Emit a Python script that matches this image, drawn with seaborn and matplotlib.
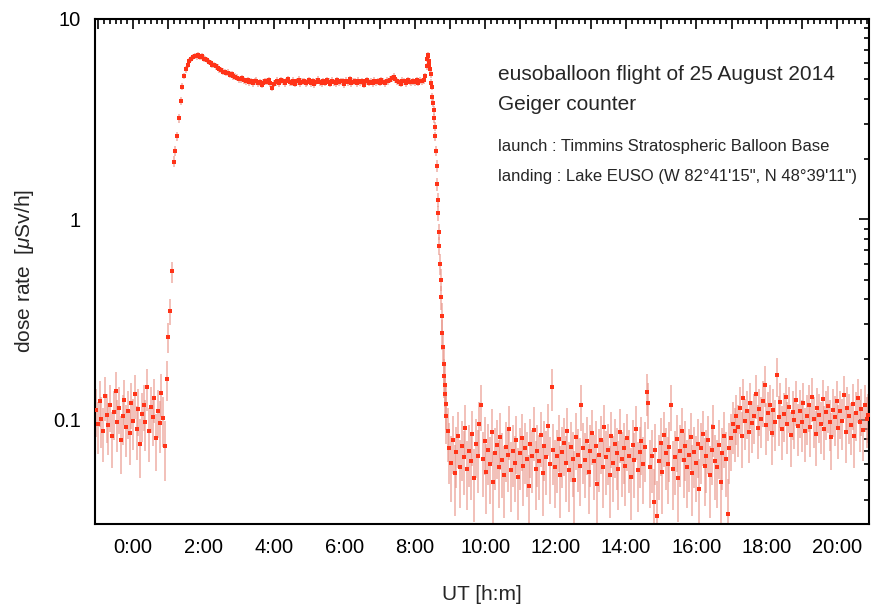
import numpy as np
import matplotlib
matplotlib.use("Agg")
import matplotlib.pyplot as plt
import seaborn as sns
from matplotlib.ticker import FixedLocator, FuncFormatter, MultipleLocator, LogLocator, NullFormatter

sns.set_theme(style="white")
plt.rcParams['font.family'] = ['Liberation Sans', 'DejaVu Sans']
plt.rcParams['mathtext.fontset'] = 'custom'
plt.rcParams['mathtext.rm'] = 'Liberation Sans'
plt.rcParams['mathtext.it'] = 'Liberation Sans:italic'

# -------------------------
# Geiger counter data (time in minutes UT, dose rate in uSv/h)
# -------------------------
# on the ground before launch, every 3 min from -63 to 54
t_pre = np.arange(-63, 55, 3)
dose_pre = [0.112, 0.095, 0.124, 0.101, 0.088, 0.131, 0.106, 0.094, 0.118, 0.083,
            0.109, 0.140, 0.097, 0.115, 0.079, 0.104, 0.126, 0.092, 0.110, 0.086,
            0.121, 0.099, 0.134, 0.090, 0.113, 0.076, 0.107, 0.119, 0.098, 0.145,
            0.088, 0.116, 0.103, 0.128, 0.081, 0.111, 0.096, 0.136, 0.102, 0.074]

# ascent and float, every 3 min from 57 to 498
t_flight = np.arange(57, 499, 3)
dose_flight = [0.16, 0.26, 0.35, 0.55, 1.94, 2.2, 2.6, 3.2, 3.9, 4.6,
               5.2, 5.6, 5.9, 6.15, 6.3, 6.45, 6.55, 6.5, 6.6, 6.45,
               6.5, 6.35, 6.3, 6.25, 6.1, 6.05, 5.9, 5.88, 5.8, 5.72,
               5.6, 5.58, 5.47, 5.45, 5.38, 5.4, 5.28, 5.3, 5.17, 5.15,
               5.1, 5.02, 5.0, 5.05, 4.95, 4.9, 4.95, 4.85, 4.9, 4.8,
               4.88, 4.92, 4.78, 4.85, 4.7, 4.82, 4.9, 4.86, 4.95, 4.8,
               4.55, 4.75, 4.85, 4.92, 4.8, 4.96, 4.88, 4.78, 4.9, 5.0,
               4.85, 4.82, 4.93, 4.75, 4.88, 4.97, 4.8, 4.86, 4.9, 4.78,
               4.85, 4.95, 4.8, 4.9, 4.72, 4.86, 4.98, 4.84, 4.78, 4.9,
               4.82, 4.95, 4.87, 4.76, 4.92, 4.85, 4.8, 4.96, 4.83, 4.9,
               4.88, 4.74, 4.92, 4.85, 4.99, 4.8, 4.86, 4.9, 4.77, 4.93,
               4.84, 4.88, 4.7, 4.9, 4.95, 4.82, 4.87, 4.8, 4.93, 4.85,
               4.9, 4.82, 4.96, 4.86, 4.8, 4.92, 4.88, 4.97, 5.05, 5.15,
               5.0, 4.9, 4.85, 4.75, 4.92, 4.88, 4.8, 4.95, 4.87, 4.83,
               4.9, 4.85, 4.95, 4.82, 4.92, 4.88, 4.96, 5.2]

# burst and descent, every minute from 500 to 534
t_descent = np.arange(500, 535, 1)
dose_descent = [5.8, 6.3, 6.6, 6.5, 6.2, 5.9, 5.6, 5.3, 4.8, 4.6,
                4.1, 3.8, 3.5, 3.2, 2.9, 2.6, 2.2, 1.85, 1.5, 1.25,
                1.08, 0.87, 0.74, 0.6, 0.5, 0.41, 0.33, 0.27, 0.23, 0.19,
                0.165, 0.15, 0.135, 0.12, 0.105]

# on the ground after landing, every 3 min from 536 to 1253
t_post = np.arange(536, 1254, 3)
dose_post = [0.088, 0.072, 0.061, 0.079, 0.054, 0.069, 0.083, 0.058, 0.074, 0.065,
             0.091, 0.057, 0.070, 0.062, 0.085, 0.051, 0.076, 0.066, 0.095, 0.119,
             0.064, 0.078, 0.055, 0.071, 0.060, 0.087, 0.049, 0.068, 0.075, 0.058,
             0.082, 0.063, 0.053, 0.073, 0.067, 0.090, 0.056, 0.070, 0.061, 0.079,
             0.052, 0.068, 0.081, 0.059, 0.072, 0.064, 0.047, 0.076, 0.066, 0.089,
             0.057, 0.070, 0.062, 0.084, 0.054, 0.074, 0.065, 0.093, 0.060, 0.145,
             0.071, 0.058, 0.066, 0.080, 0.053, 0.069, 0.077, 0.061, 0.088, 0.056,
             0.073, 0.064, 0.050, 0.082, 0.067, 0.059, 0.119, 0.072, 0.063, 0.078,
             0.055, 0.070, 0.086, 0.062, 0.074, 0.048, 0.067, 0.079, 0.058, 0.092,
             0.065, 0.071, 0.053, 0.083, 0.061, 0.076, 0.068, 0.057, 0.087, 0.064,
             0.072, 0.059, 0.081, 0.066, 0.052, 0.075, 0.063, 0.090, 0.056, 0.069,
             0.078, 0.060, 0.073, 0.137, 0.121, 0.058, 0.066, 0.039, 0.071, 0.033,
             0.062, 0.077, 0.055, 0.084, 0.068, 0.060, 0.073, 0.119, 0.057, 0.065,
             0.080, 0.051, 0.070, 0.088, 0.063, 0.074, 0.058, 0.067, 0.082, 0.054,
             0.069, 0.061, 0.076, 0.045, 0.072, 0.085, 0.059, 0.066, 0.079, 0.053,
             0.071, 0.092, 0.062, 0.058, 0.075, 0.049, 0.068, 0.083, 0.064, 0.034,
             0.072, 0.081, 0.095, 0.088, 0.104, 0.092, 0.115, 0.083, 0.128, 0.099,
             0.110, 0.087, 0.121, 0.096, 0.105, 0.134, 0.091, 0.113, 0.101, 0.124,
             0.150, 0.094, 0.108, 0.119, 0.086, 0.112, 0.098, 0.167, 0.103, 0.122,
             0.090, 0.107, 0.130, 0.095, 0.116, 0.084, 0.109, 0.100, 0.125, 0.093,
             0.111, 0.097, 0.121, 0.088, 0.104, 0.118, 0.092, 0.130, 0.101, 0.085,
             0.114, 0.106, 0.095, 0.127, 0.090, 0.109, 0.117, 0.098, 0.082, 0.112,
             0.103, 0.124, 0.091, 0.110, 0.099, 0.133, 0.087, 0.115, 0.105, 0.094,
             0.120, 0.083, 0.108, 0.128, 0.097, 0.113, 0.089, 0.118, 0.101, 0.106]

# dose corresponding to one count (Poisson error bars)
dose_per_count = 0.008

hours = np.concatenate([t_pre, t_flight, t_descent, t_post]) / 60.0
dose = np.concatenate([dose_pre, dose_flight, dose_descent, dose_post])
dose_err = np.sqrt(dose * dose_per_count)

# -------------------------
# Plot
# -------------------------
fig = plt.figure(figsize=(8.71, 6.08), dpi=100)
ax = fig.add_axes([95/871, 1 - 524/608, 774/871, 505/608])

ax.errorbar(hours, dose, yerr=dose_err, fmt='none', ecolor='#e99589',
            elinewidth=1.4, alpha=0.6, zorder=1)
sns.scatterplot(x=hours, y=dose, ax=ax, color='#ff3318', marker='s', s=5,
                linewidth=0, zorder=3)

ax.set_yscale('log')
ax.set_ylim(0.0302, 10)
ax.set_xlim(-65/60, 1254/60)

ax.set_yticks([0.1, 1, 10])
ax.set_yticklabels(['0.1', '1', '10'])
ax.yaxis.set_minor_locator(LogLocator(base=10, subs=np.arange(2, 10)))
ax.yaxis.set_minor_formatter(NullFormatter())

ax.xaxis.set_major_locator(FixedLocator(np.arange(-1, 22)))
ax.xaxis.set_major_formatter(FuncFormatter(
    lambda v, p: f"{int(round(v))}:00" if int(round(v)) % 2 == 0 and v >= 0 else ""))
ax.xaxis.set_minor_locator(MultipleLocator(1/6))

ax.tick_params(which='both', direction='in', top=True, right=True,
               width=1.2, colors='black', labelsize=14.5)
ax.tick_params(which='major', length=7, pad=10)
ax.tick_params(which='minor', length=3.5)
for sp in ax.spines.values():
    sp.set_linewidth(1.5)
    sp.set_color('black')

ax.set_xlabel("UT [h:m]", fontsize=15, va='center')
ax.set_ylabel(r"dose rate  [$\mu$Sv/h]", fontsize=15, va='center')
ax.xaxis.set_label_coords(0.5, (524 - 595) / 505)
ax.yaxis.set_label_coords((25 - 95) / 774, 0.5)

fig.text(498/871, 1 - 75/608, "eusoballoon flight of 25 August 2014", fontsize=15, va='center')
fig.text(498/871, 1 - 104/608, "Geiger counter", fontsize=15, va='center')
fig.text(498/871, 1 - 147/608, "launch : Timmins Stratospheric Balloon Base", fontsize=12, va='center')
fig.text(498/871, 1 - 176/608, "landing : Lake EUSO (W 82°41'15\", N 48°39'11\")", fontsize=12, va='center')

fig.savefig("out.png", dpi=100, facecolor='white')
